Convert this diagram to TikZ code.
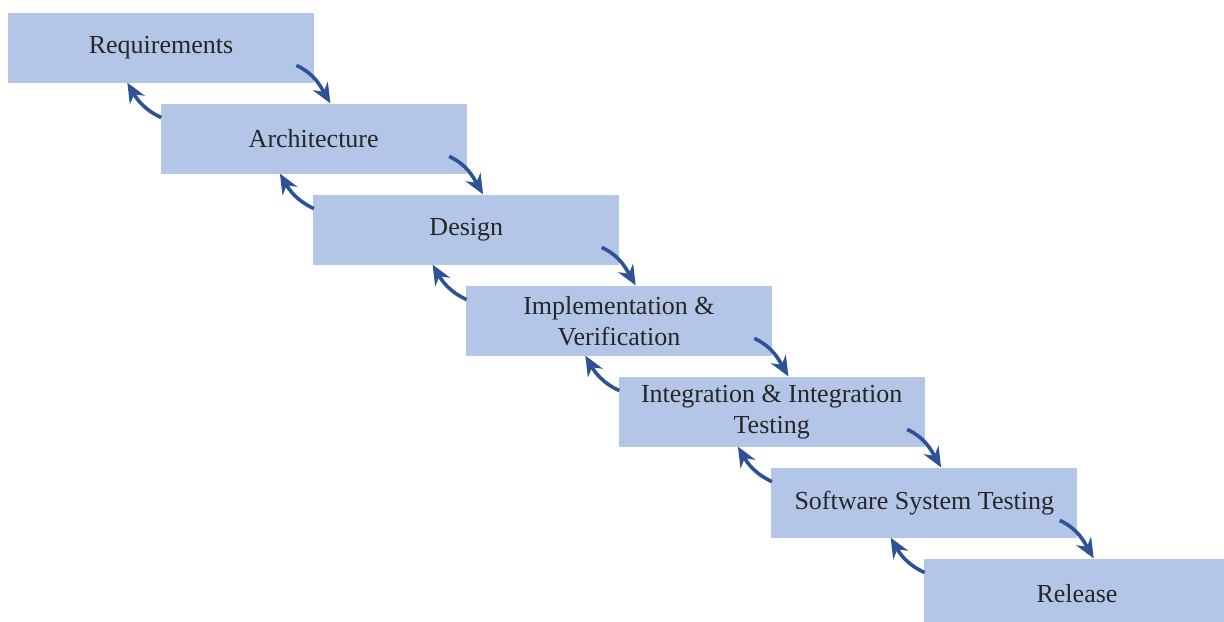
\documentclass[tikz,border=0pt]{standalone}
\usepackage{fontspec}
\setmainfont{Liberation Serif}
\usetikzlibrary{arrows.meta}
\usetikzlibrary{calc}
\definecolor{stagefill}{RGB}{180,198,231}
\definecolor{flowblue}{RGB}{45,82,150}

\begin{document}
\begin{tikzpicture}[x=0.5pt,y=0.5pt,
    stage/.style={rectangle,fill=stagefill,minimum width=153pt,minimum height=35pt,inner sep=0pt,
      align=center,font=\fontsize{13}{15.5}\selectfont,text=black!85},
    flow/.style={line width=1.8pt,color=flowblue,-{Stealth[length=10pt,width=8.5pt]}}]
  \useasboundingbox (0,0) rectangle (1224,-621);
  % the stages, one step down and right each time
  \node[stage] (req)  at (161,-48)    {Requirements};
  \node[stage] (arch) at (313.7,-139) {Architecture};
  \node[stage] (des)  at (466.3,-230) {Design};
  \node[stage] (impl) at (619,-321)   {Implementation \&\\Verification};
  \node[stage] (integ) at (771.7,-412) {Integration \& Integration\\Testing};
  \node[stage] (sst)  at (924.3,-503) {Software System Testing};
  \node[stage] (rel)  at (1077,-594)  {Release};
  % forward arrows
  \path[flow] ($(req.south east)+(-18,18)$)   edge[out=-25,in=120] ($(req.south east)+(16,-20)$);
  \path[flow] ($(arch.south east)+(-18,18)$)  edge[out=-25,in=120] ($(arch.south east)+(16,-20)$);
  \path[flow] ($(des.south east)+(-18,18)$)   edge[out=-25,in=120] ($(des.south east)+(16,-20)$);
  \path[flow] ($(impl.south east)+(-18,18)$)  edge[out=-25,in=120] ($(impl.south east)+(16,-20)$);
  \path[flow] ($(integ.south east)+(-18,18)$) edge[out=-25,in=120] ($(integ.south east)+(16,-20)$);
  \path[flow] ($(sst.south east)+(-18,18)$)   edge[out=-25,in=120] ($(sst.south east)+(16,-20)$);
  % backward arrows
  \path[flow] ($(arch.north west)+(1,-14)$)  edge[out=155,in=-60] ($(arch.north west)+(-33,21)$);
  \path[flow] ($(des.north west)+(1,-14)$)   edge[out=155,in=-60] ($(des.north west)+(-33,21)$);
  \path[flow] ($(impl.north west)+(1,-14)$)  edge[out=155,in=-60] ($(impl.north west)+(-33,21)$);
  \path[flow] ($(integ.north west)+(1,-14)$) edge[out=155,in=-60] ($(integ.north west)+(-33,21)$);
  \path[flow] ($(sst.north west)+(1,-14)$)   edge[out=155,in=-60] ($(sst.north west)+(-33,21)$);
  \path[flow] ($(rel.north west)+(1,-14)$)   edge[out=155,in=-60] ($(rel.north west)+(-33,21)$);
\end{tikzpicture}
\end{document}
